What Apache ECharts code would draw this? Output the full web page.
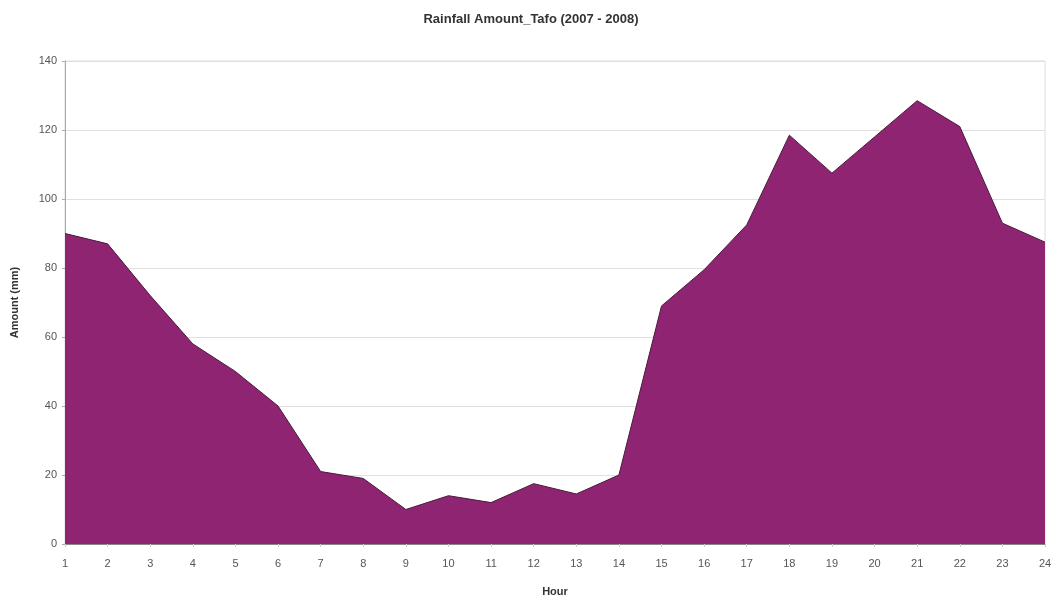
<!DOCTYPE html>
<html><head><meta charset="utf-8">
<script src="https://cdn.jsdelivr.net/npm/echarts@6/dist/echarts.min.js"></script>
<style>html,body{margin:0;padding:0;background:#fff}#c{width:1062px;height:598px}</style>
</head><body><div id="c"></div>
<script>
const hours = ['1','2','3','4','5','6','7','8','9','10','11','12','13','14','15','16','17','18','19','20','21','22','23','24'];
const rainfall = [90, 87, 72, 58, 50, 40, 21, 19, 10, 14, 12, 17.5, 14.5, 20, 69, 79.5, 92.5, 118.5, 107.5, 118, 128.5, 121, 93, 87.5];
const yTicks = {min: 0, max: 140, interval: 20};

const chart = echarts.init(document.getElementById('c'), null, {renderer: 'canvas'});
chart.setOption({
  animation: false,
  backgroundColor: '#fff',
  title: {
    text: 'Rainfall Amount_Tafo (2007 - 2008)',
    left: 'center', top: 8,
    textStyle: {fontFamily: 'Liberation Sans, Arial', fontSize: 13, fontWeight: 'bold', color: '#333'}
  },
  grid: {left: 65, right: 17, top: 61, bottom: 54, containLabel: false, outerBoundsMode: 'none'},
  xAxis: {
    type: 'category', data: hours, boundaryGap: false,
    name: 'Hour', nameLocation: 'middle', nameGap: 42,
    nameTextStyle: {fontFamily: 'Liberation Sans, Arial', fontSize: 11, fontWeight: 'bold', color: '#333'},
    axisLine: {lineStyle: {color: '#888', width: 1}},
    axisTick: {show: true, alignWithLabel: true, lineStyle: {color: '#ccc'}, length: 3},
    axisLabel: {fontFamily: 'Liberation Sans, Arial', fontSize: 11, color: '#555', margin: 14},
    splitLine: {show: false}
  },
  yAxis: {
    type: 'value', min: yTicks.min, max: yTicks.max, interval: yTicks.interval,
    name: 'Amount (mm)', nameLocation: 'middle', nameGap: 45, nameRotate: 90,
    nameTextStyle: {fontFamily: 'Liberation Sans, Arial', fontSize: 11, fontWeight: 'bold', color: '#333'},
    axisLine: {show: true, lineStyle: {color: '#aaa'}},
    axisTick: {show: true, length: 3, lineStyle: {color: '#aaa'}},
    axisLabel: {fontFamily: 'Liberation Sans, Arial', fontSize: 11, color: '#555', margin: 8},
    splitLine: {show: true, lineStyle: {color: '#e0e0e0', width: 1}}
  },
  series: [{
    type: 'line', data: rainfall, symbol: 'none',
    lineStyle: {color: '#4a1a3c', width: 1},
    areaStyle: {color: '#8e2472', opacity: 1},
    z: 3
  }],
  graphic: [{
    type: 'rect', shape: {x: 65, y: 61, width: 980, height: 483},
    style: {fill: 'none', stroke: '#ddd', lineWidth: 1}, z: 0, silent: true
  }]
});
</script></body></html>
